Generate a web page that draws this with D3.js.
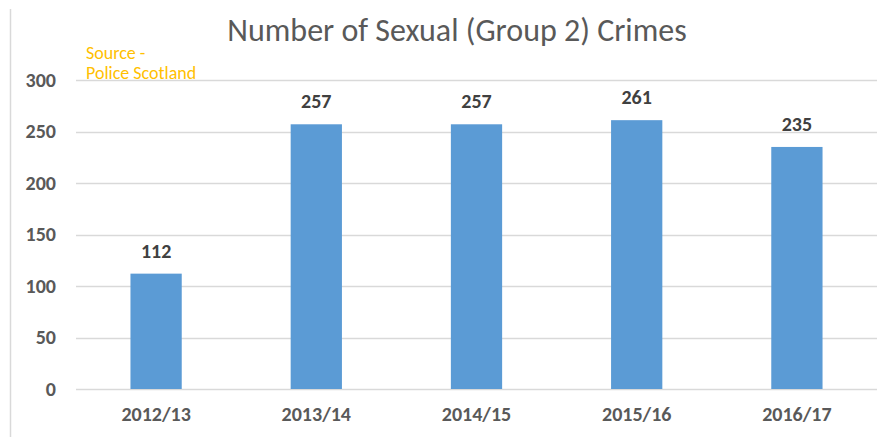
<!DOCTYPE html>
<html>
<head>
<meta charset="utf-8">
<script src="https://cdn.jsdelivr.net/npm/d3@7"></script>
<style>
	body { margin: 0; background: #fff; }
	svg text { font-family: Carlito, "Open Sans", "Noto Sans", sans-serif; }
</style>
</head>
<body>
<div id="chart"></div>
<script>
// chart data
var years = ["2012/13", "2013/14", "2014/15", "2015/16", "2016/17"];
var crimes = [112, 257, 257, 261, 235];
var yTicks = [0, 50, 100, 150, 200, 250, 300];

var W = 896, H = 437;
var margin = {left: 76, right: 19, top: 80, bottom: 48};

var svg = d3.select("#chart").append("svg")
	.attr("width", W)
	.attr("height", H);

// chart border on the left
svg.append("line")
	.attr("x1", 10.5).attr("x2", 10.5)
	.attr("y1", 9).attr("y2", H)
	.attr("stroke", "#d9d9d9")
	.attr("stroke-width", 1.5);

var x = d3.scaleBand()
	.domain(years)
	.range([margin.left, W - margin.right])
	.paddingInner(0.68)
	.paddingOuter(0.34);

var y = d3.scaleLinear()
	.domain([0, 300])
	.range([H - margin.bottom, margin.top]);

// gridlines
svg.append("g")
	.selectAll("line")
	.data(yTicks)
	.enter()
	.append("line")
	.attr("x1", margin.left)
	.attr("x2", W - margin.right)
	.attr("y1", function(d) { return Math.round(y(d)) + 0.5; })
	.attr("y2", function(d) { return Math.round(y(d)) + 0.5; })
	.attr("stroke", "#d9d9d9")
	.attr("stroke-width", 1.5);

// y axis labels
var yAxis = d3.axisLeft(y).tickValues(yTicks).tickSize(0).tickPadding(20);
svg.append("g")
	.attr("transform", "translate(" + margin.left + ",0)")
	.call(yAxis)
	.call(function(g) { g.select(".domain").remove(); })
	.selectAll("text")
	.attr("fill", "#595959")
	.attr("font-size", "20px")
	.attr("font-weight", "bold");

// x axis labels
var xAxis = d3.axisBottom(x).tickSize(0).tickPadding(18);
svg.append("g")
	.attr("transform", "translate(0," + (H - margin.bottom) + ")")
	.call(xAxis)
	.call(function(g) { g.select(".domain").remove(); })
	.selectAll("text")
	.attr("fill", "#595959")
	.attr("font-size", "20px")
	.attr("font-weight", "bold");

// bars
svg.selectAll("rect.bar")
	.data(crimes)
	.enter()
	.append("rect")
	.attr("class", "bar")
	.attr("x", function(d, i) { return x(years[i]); })
	.attr("y", function(d) { return y(d); })
	.attr("width", x.bandwidth())
	.attr("height", function(d) { return y(0) - y(d); })
	.attr("fill", "#5b9bd5");

// value labels
svg.selectAll("text.value")
	.data(crimes)
	.enter()
	.append("text")
	.attr("class", "value")
	.attr("x", function(d, i) { return x(years[i]) + x.bandwidth() / 2; })
	.attr("y", function(d) { return y(d) - 16; })
	.attr("text-anchor", "middle")
	.attr("fill", "#404040")
	.attr("font-size", "20px")
	.attr("font-weight", "bold")
	.text(function(d) { return d; });

// title
svg.append("text")
	.attr("x", 457)
	.attr("y", 41)
	.attr("text-anchor", "middle")
	.attr("fill", "#595959")
	.attr("font-size", "32px")
	.text("Number of Sexual (Group 2) Crimes");

// source note
var src = svg.append("text")
	.attr("fill", "#ffc000")
	.attr("font-size", "18px");
src.append("tspan").attr("x", 86).attr("y", 59).text("Source -");
src.append("tspan").attr("x", 86).attr("y", 79).text("Police Scotland");
</script>
</body>
</html>
